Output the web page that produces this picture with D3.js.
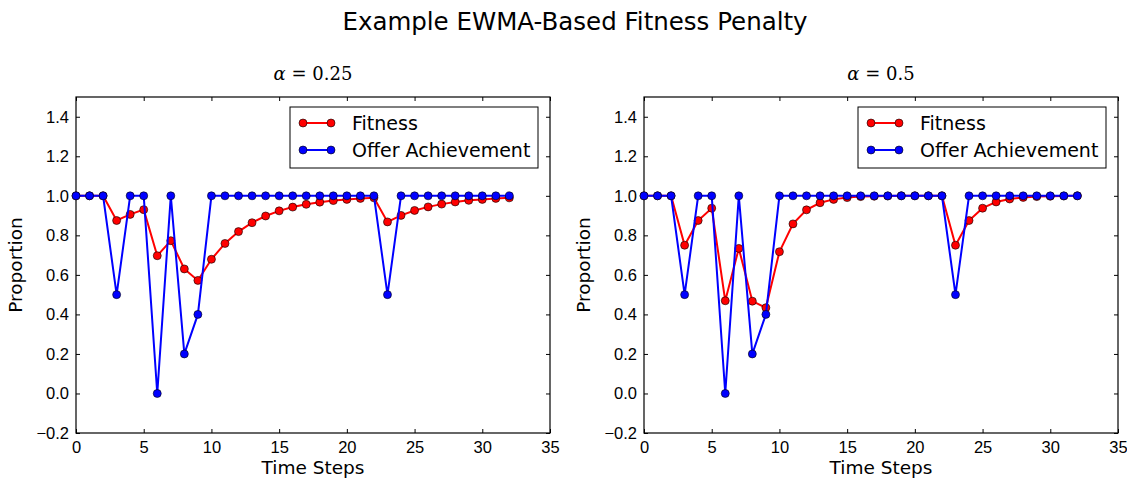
<!DOCTYPE html>
<html>
<head>
<meta charset="utf-8">
<script src="https://cdn.jsdelivr.net/npm/d3@7"></script>
<style>
  body { margin: 0; background: #fff; }
  svg { font-family: "DejaVu Sans", sans-serif; }
</style>
</head>
<body>
<div id="svg-container"></div>
<script>
// Time steps 0..32
const steps = d3.range(0, 33);

// Offer achievement (same in both panels)
const offer = [1, 1, 1, 0.5, 1, 1, 0, 1, 0.2, 0.4,
  1, 1, 1, 1, 1, 1, 1, 1, 1, 1, 1, 1, 1, 0.5,
  1, 1, 1, 1, 1, 1, 1, 1, 1];

// Fitness, alpha = 0.25
const fitnessA = [1, 1, 1, 0.875, 0.906, 0.930, 0.697, 0.773, 0.630, 0.572,
  0.679, 0.759, 0.819, 0.864, 0.898, 0.924, 0.943, 0.957, 0.968, 0.976,
  0.982, 0.987, 0.990, 0.868, 0.901, 0.926, 0.944, 0.958, 0.969, 0.977,
  0.982, 0.987, 0.990];

// Fitness, alpha = 0.5
const fitnessB = [1, 1, 1, 0.75, 0.875, 0.9375, 0.469, 0.734, 0.467, 0.434,
  0.717, 0.858, 0.929, 0.965, 0.982, 0.991, 0.996, 0.998, 0.999, 1.0,
  1.0, 1.0, 1.0, 0.75, 0.875, 0.9375, 0.969, 0.984, 0.992, 0.996,
  0.998, 0.999, 1.0];

const alphas = ['0.25', '0.5'];
const xTicks = [0, 5, 10, 15, 20, 25, 30, 35];
const yTicks = [-0.2, 0.0, 0.2, 0.4, 0.6, 0.8, 1.0, 1.2, 1.4];
const seriesNames = ['Fitness', 'Offer Achievement'];
const seriesColors = ['#ff0000', '#0000ff'];

const width = 1127;
const height = 478;

const svg = d3.select('#svg-container')
  .append('svg')
  .attr('width', width)
  .attr('height', height);

svg.append('text')
  .attr('x', 575)
  .attr('y', 30)
  .attr('text-anchor', 'middle')
  .style('font-size', '24.5px')
  .text('Example EWMA-Based Fitness Penalty');

const panels = [
  {left: 76, right: 550, fitness: fitnessA, alpha: alphas[0]},
  {left: 644, right: 1118, fitness: fitnessB, alpha: alphas[1]}
];
const plotTop = 97;
const plotBottom = 433;

const fmt = (v) => {
  const s = d3.format('.1f')(Math.abs(v));
  return v < 0 ? '\u2212' + s : s;
};

panels.forEach((p) => {
  const xScale = d3.scaleLinear().domain([0, 35]).range([p.left, p.right]);
  const yScale = d3.scaleLinear().domain([-0.2, 1.5]).range([plotBottom, plotTop]);
  const g = svg.append('g');

  // ticks inward on all four sides
  g.append('g')
    .attr('transform', `translate(0, ${plotBottom})`)
    .call(d3.axisBottom(xScale).tickValues(xTicks).tickSizeInner(-4).tickSizeOuter(0).tickPadding(8))
    .call((a) => a.select('.domain').remove())
    .call((a) => a.selectAll('text').style('font-size', '16.5px').attr('fill', '#000'));
  g.append('g')
    .attr('transform', `translate(0, ${plotTop})`)
    .call(d3.axisTop(xScale).tickValues(xTicks).tickSizeInner(-4).tickSizeOuter(0).tickFormat(''))
    .call((a) => a.select('.domain').remove());
  g.append('g')
    .attr('transform', `translate(${p.left}, 0)`)
    .call(d3.axisLeft(yScale).tickValues(yTicks).tickSizeInner(-4).tickSizeOuter(0).tickPadding(7).tickFormat(fmt))
    .call((a) => a.select('.domain').remove())
    .call((a) => a.selectAll('text').style('font-size', '16.5px').attr('fill', '#000'));
  g.append('g')
    .attr('transform', `translate(${p.right}, 0)`)
    .call(d3.axisRight(yScale).tickValues(yTicks).tickSizeInner(-4).tickSizeOuter(0).tickFormat(''))
    .call((a) => a.select('.domain').remove());

  g.append('rect')
    .attr('x', p.left)
    .attr('y', plotTop)
    .attr('width', p.right - p.left)
    .attr('height', plotBottom - plotTop)
    .attr('fill', 'none')
    .attr('stroke', '#000')
    .attr('stroke-width', 1.2);

  const line = d3.line()
    .x((d, i) => xScale(steps[i]))
    .y((d) => yScale(d));

  [p.fitness, offer].forEach((vals, k) => {
    g.append('path')
      .datum(vals)
      .attr('d', line)
      .attr('fill', 'none')
      .attr('stroke', seriesColors[k])
      .attr('stroke-width', 2);
    g.selectAll(null)
      .data(vals)
      .enter()
      .append('circle')
      .attr('cx', (d, i) => xScale(steps[i]))
      .attr('cy', (d) => yScale(d))
      .attr('r', 4)
      .attr('fill', seriesColors[k])
      .attr('stroke', '#000')
      .attr('stroke-width', 0.6);
  });

  // panel title (math style)
  const t = g.append('text')
    .attr('x', (p.left + p.right) / 2)
    .attr('y', 80)
    .attr('text-anchor', 'middle')
    .style('font-family', '"DejaVu Serif", serif')
    .style('font-size', '18px');
  t.append('tspan').attr('font-style', 'italic').text('α');
  t.append('tspan').text(' = ' + p.alpha);

  g.append('text')
    .attr('x', (p.left + p.right) / 2)
    .attr('y', 474)
    .attr('text-anchor', 'middle')
    .style('font-size', '18.5px')
    .text('Time Steps');

  g.append('text')
    .attr('transform', `translate(${p.left - 54}, ${(plotTop + plotBottom) / 2}) rotate(-90)`)
    .attr('text-anchor', 'middle')
    .style('font-size', '18.5px')
    .text('Proportion');

  // legend
  const lx = p.right - 260;
  const ly = 107;
  const legend = g.append('g');
  legend.append('rect')
    .attr('x', lx)
    .attr('y', ly)
    .attr('width', 248)
    .attr('height', 61)
    .attr('fill', '#fff')
    .attr('stroke', '#000')
    .attr('stroke-width', 1);
  seriesNames.forEach((name, k) => {
    const yy = ly + 16 + k * 27;
    legend.append('line')
      .attr('x1', lx + 13).attr('x2', lx + 41)
      .attr('y1', yy).attr('y2', yy)
      .attr('stroke', seriesColors[k])
      .attr('stroke-width', 2);
    [lx + 13, lx + 41].forEach((cx) => {
      legend.append('circle')
        .attr('cx', cx).attr('cy', yy).attr('r', 4)
        .attr('fill', seriesColors[k])
        .attr('stroke', '#000')
        .attr('stroke-width', 0.6);
    });
    legend.append('text')
      .attr('x', lx + 62)
      .attr('y', yy + 7)
      .style('font-size', '19px')
      .text(name);
  });
});
</script>
</body>
</html>
